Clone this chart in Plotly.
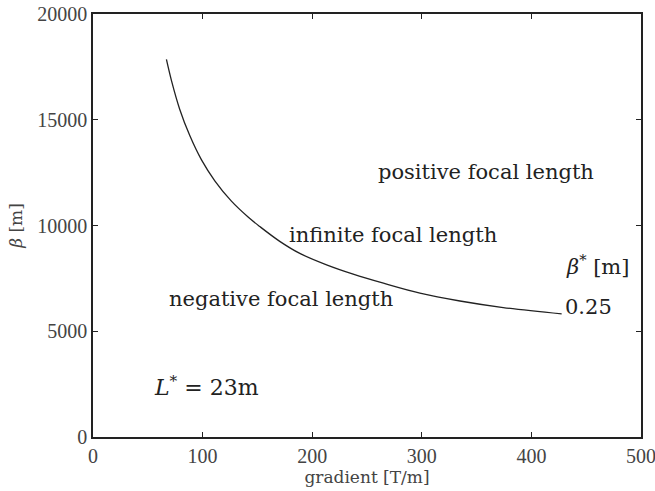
import plotly.graph_objects as go

# data
gradient = [67.0, 71.6, 79.1, 88.3, 99.0, 111.3, 126.3, 141.5, 152.2, 170.4,
            188.7, 213.1, 237.4, 265.0, 298.3, 334.8, 374.3, 427.6]
beta = [17850, 16850, 15500, 14250, 13100, 12100, 11150, 10400, 9950, 9250,
        8680, 8140, 7700, 7270, 6800, 6430, 6120, 5821]

x_ticks = [0, 100, 200, 300, 400, 500]
x_tick_text = ["0", "100", "200", "300", "400", "500"]
y_ticks = [0, 5000, 10000, 15000, 20000]
y_tick_text = ["0", "5000", "10000", "15000", "20000"]

TICKFONT = "Liberation Serif"
TEXTFONT = "DejaVu Serif"
INK = "#222222"

fig = go.Figure()
fig.add_trace(go.Scatter(x=gradient, y=beta, mode="lines",
                         line=dict(color=INK, width=1.3, shape="spline", smoothing=1.0),
                         showlegend=False, hoverinfo="skip"))

labels = [
    (358.5, 12533, "positive focal length", "center", 21),
    (273.6, 9552, "infinite focal length", "center", 21),
    (171.4, 6542, "negative focal length", "center", 21),
    (460, 8150, "<i>β</i><sup>*</sup> [m]", "center", 21),
    (429, 6150, "0.25", "left", 21),
    (104, 2400, "<i>L</i><sup>*</sup> = 23m", "center", 22),
]
for x, y, t, anc, sz in labels:
    fig.add_annotation(x=x, y=y, text=t, showarrow=False, xanchor=anc,
                       font=dict(family=TEXTFONT, size=sz, color=INK))

axis_common = dict(showgrid=False, zeroline=False, showline=True, linecolor=INK,
                   linewidth=1.5, mirror="ticks", ticks="inside", ticklen=5,
                   tickwidth=1, tickcolor=INK, automargin=False,
                   ticklabeloverflow="allow",
                   tickfont=dict(family=TICKFONT, size=20, color="#444444"))

fig.update_xaxes(range=[0, 500], tickvals=x_ticks, ticktext=x_tick_text,
                 title=dict(text="gradient [T/m]", font=dict(family=TEXTFONT, size=17, color="#444444"), standoff=4),
                 **axis_common)
fig.update_yaxes(range=[0, 20000], tickvals=y_ticks, ticktext=y_tick_text,
                 title=dict(text="<i>β</i> [m]", font=dict(family=TEXTFONT, size=17, color="#444444"), standoff=10),
                 **axis_common)

fig.update_layout(width=655, height=491, margin=dict(l=93, r=14, t=14, b=54),
                  plot_bgcolor="white", paper_bgcolor="white")
fig.write_html("out.html", config={"displayModeBar": False},
               post_script="document.body.style.margin='0';document.body.style.overflow='hidden';")
